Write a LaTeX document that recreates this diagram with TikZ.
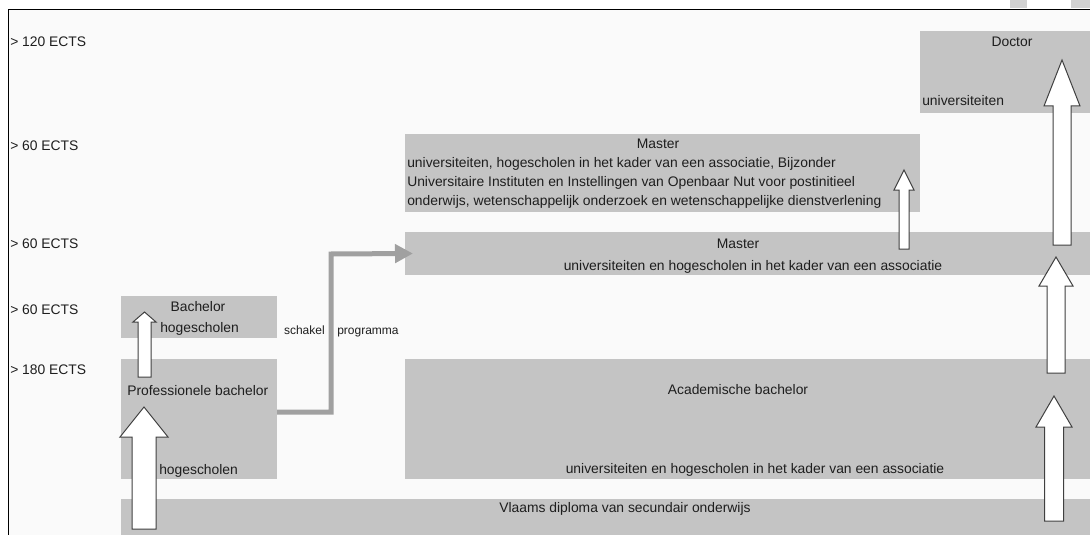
\documentclass[tikz,border=0pt]{standalone}
\usepackage{fontspec}
\setmainfont{Liberation Sans}
\usetikzlibrary{fit,arrows.meta}
\definecolor{boxgray}{HTML}{C4C4C4}
\definecolor{linkgray}{HTML}{A0A0A0}
\definecolor{bgcol}{HTML}{FAFAFA}
\definecolor{txtcol}{HTML}{1E1E1E}
\definecolor{arrline}{HTML}{404040}
\newcommand{\uparrowshape}[6]{%
  \draw[blockarrow] (#1-#4,#2) -- (#1-#4,#6) -- (#1-#5,#6) -- (#1,#3) -- (#1+#5,#6) -- (#1+#4,#6) -- (#1+#4,#2) -- cycle;}
\begin{document}
\begin{tikzpicture}[x=0.75pt,y=-0.75pt,
  box/.style={fill=boxgray,draw=none,inner sep=0pt,outer sep=0pt},
  txt/.style={text=txtcol,font=\fontsize{10.4}{12}\selectfont,inner sep=0pt},
  smalltxt/.style={text=txtcol,font=\fontsize{9}{11}\selectfont,inner sep=0pt},
  blockarrow/.style={fill=white,draw=arrline,line width=0.75pt,line join=miter},
  link/.style={draw=linkgray,line width=3.75pt,-{Triangle[length=13.5pt,width=13.5pt]}}]
\useasboundingbox (0,0) rectangle (1090,535);
\fill[white] (0,0) rectangle (1090,535);
\fill[bgcol] (8,10) rectangle (1090,535);
\fill[gray!35] (1010,0) rectangle (1027,8);
\fill[gray!35] (1071,0) rectangle (1090,8);
\draw[black,line width=0.75pt] (8,535) -- (8,10) -- (1090,10);
% boxes
\node[box,fit={(920,31)(1090,113)}] (doc) {};
\node[box,fit={(405,134)(920,212)}] (mtop) {};
\node[box,fit={(405,232)(1090,275)}] (mmid) {};
\node[box,fit={(121,296)(277,338)}] (bach) {};
\node[box,fit={(121,359)(277,479)}] (prof) {};
\node[box,fit={(405,359)(1090,479)}] (acad) {};
\node[box,fit={(121,499)(1090,535)}] (vlaams) {};
% ECTS labels
\node[txt,anchor=base west] (e1) at (10,47) {> 120 ECTS};
\node[txt,anchor=base west] (e2) at (10,151) {> 60 ECTS};
\node[txt,anchor=base west] (e3) at (10,248) {> 60 ECTS};
\node[txt,anchor=base west] (e4) at (10,314) {> 60 ECTS};
\node[txt,anchor=base west] (e5) at (10,374) {> 180 ECTS};
% box texts
\node[txt,anchor=base] (tdoc) at (1012,47) {Doctor};
\node[txt,anchor=base west] (tdocu) at (922,106) {universiteiten};
\node[txt,anchor=base] (tmtop) at (658,148) {Master};
\node[txt,anchor=base west] (tmtop1) at (407,167) {universiteiten, hogescholen in het kader van een associatie, Bijzonder};
\node[txt,anchor=base west] (tmtop2) at (407,186) {Universitaire Instituten en Instellingen van Openbaar Nut voor postinitieel};
\node[txt,anchor=base west] (tmtop3) at (407,205) {onderwijs, wetenschappelijk onderzoek en wetenschappelijke dienstverlening};
\node[txt,anchor=base] (tmmid) at (738,248) {Master};
\node[txt,anchor=base] (tmmid2) at (753,270) {universiteiten en hogescholen in het kader van een associatie};
\node[txt,anchor=base] (tbach) at (198,311) {Bachelor};
\node[txt,anchor=base west] (tbach2) at (160,332) {hogescholen};
\node[txt,anchor=base west] (tprof) at (127,395) {Professionele bachelor};
\node[txt,anchor=base west] (tprof2) at (159,474) {hogescholen};
\node[txt,anchor=base] (tacad) at (738,394) {Academische bachelor};
\node[txt,anchor=base] (tacad2) at (755,473) {universiteiten en hogescholen in het kader van een associatie};
\node[txt,anchor=base] (tvl) at (625,512) {Vlaams diploma van secundair onderwijs};
% link
\draw[link] ([yshift=5.25pt]prof.east) -| (331,254) -- ([xshift=6pt]mmid.west);
\node[smalltxt,anchor=base east] (schakel) at (325,334) {schakel};
\node[smalltxt,anchor=base west] (prog) at (337,334) {programma};
% block arrows
\uparrowshape{144.5}{377}{312}{6.5}{11.5}{322}
\uparrowshape{144}{529}{407}{12}{24}{437}
\uparrowshape{904}{249}{170}{5}{10}{190}
\uparrowshape{1062}{245}{60}{9}{18}{106}
\uparrowshape{1056}{373}{257}{9}{17}{286}
\uparrowshape{1054}{521}{396}{9.5}{18}{427}
\end{tikzpicture}
\end{document}
